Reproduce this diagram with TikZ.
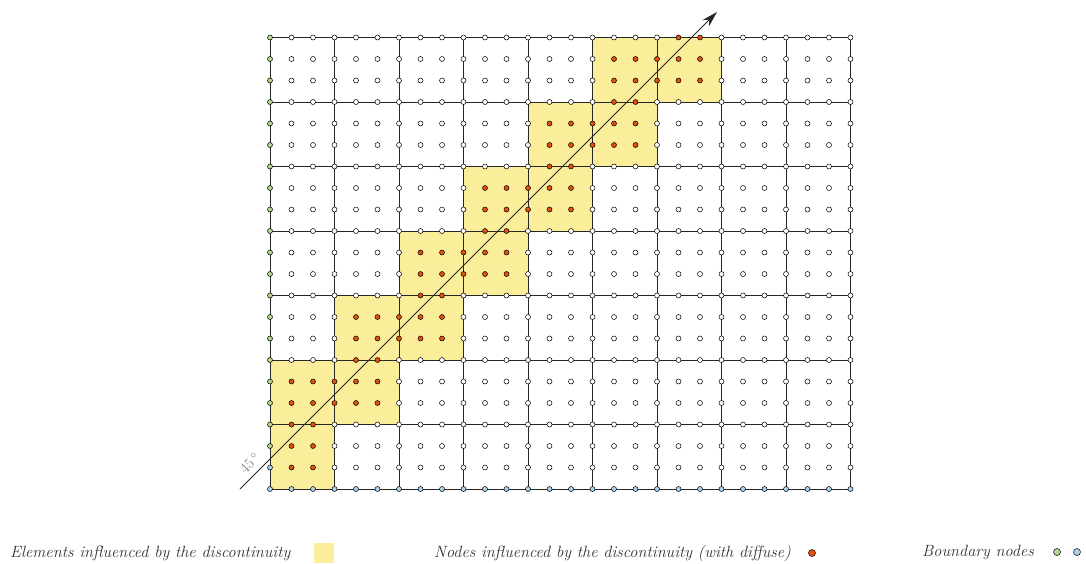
\documentclass[tikz,border=0pt]{standalone}
\usetikzlibrary{arrows.meta}
\definecolor{elemyellow}{RGB}{250,238,155}
\definecolor{nodered}{RGB}{230,80,10}
\definecolor{bndgreen}{RGB}{181,217,140}
\definecolor{bndblue}{RGB}{168,212,240}
\definecolor{legtext}{RGB}{50,50,50}
\tikzset{
  meshline/.style={line width=0.9pt, draw=black!85},
  meshnode/.style={line width=0.5pt, draw=black},
  legendtext/.style={anchor=west, inner sep=0pt, text=legtext, font=\fontsize{16.3}{19}\selectfont\itshape},
  dirline/.style={line width=0.8pt, draw=black!85, -{Stealth[length=16pt,width=9pt]}},
}
\begin{document}
\begin{tikzpicture}[x=1pt,y=-1pt]
\useasboundingbox (0,0) rectangle (1086,563);
% yellow elements (c = column from left, r = row from bottom)
\foreach \ec/\er in {0/0,0/1,1/1,1/2,2/2,2/3,3/3,3/4,4/4,4/5,5/5,5/6,6/6}{
  \fill[elemyellow] ({270+64.5*\ec},{489-64.5*\er}) rectangle ({270+64.5*(\ec+1)},{489-64.5*(\er+1)});
}
% mesh lines
\foreach \k in {0,...,9}{
  \draw[meshline] ({270+64.5*\k},489) -- ({270+64.5*\k},{489-64.5*7});
}
\foreach \k in {0,...,7}{
  \draw[meshline] (270,{489-64.5*\k}) -- ({270+64.5*9},{489-64.5*\k});
}
% direction of the discontinuity
\coordinate (dstart) at (240,489);
\coordinate (dend) at (717,12);
\draw[dirline] (dstart) -- (dend);
\node[rotate=45, text=black!55, font=\fontsize{15}{17}\selectfont, inner sep=0pt] (anglelabel) at (250,463) {45\,$^{\circ}$};
% mesh nodes
\foreach \i in {0,...,27}{
  \foreach \j in {0,...,21}{
    \pgfmathtruncatemacro\im{mod(\i,3)}
    \pgfmathtruncatemacro\jm{mod(\j,3)}
    \pgfmathtruncatemacro\ec{floor(\i/3)}
    \pgfmathtruncatemacro\er{floor(\j/3)}
    \pgfmathtruncatemacro\erm{\er-1}
    \pgfmathtruncatemacro\ecp{\ec+1}
    \def\nodecol{white}
    % interior nodes of yellow elements
    \ifnum\im>0 \ifnum\jm>0
      \ifnum\er=0 \ifnum\ec=0 \def\nodecol{nodered}\fi\fi
      \ifnum\er>0
        \ifnum\ec=\er \def\nodecol{nodered}\fi
        \ifnum\ec=\erm \def\nodecol{nodered}\fi
      \fi
    \fi\fi
    % shared vertical edges
    \ifnum\im=0 \ifnum\jm>0
      \ifnum\ec>0 \ifnum\er=\ec \def\nodecol{nodered}\fi\fi
    \fi\fi
    % shared horizontal edges
    \ifnum\jm=0 \ifnum\im>0
      \pgfmathtruncatemacro\jd{\j/3}
      \ifnum\jd=\ecp \def\nodecol{nodered}\fi
    \fi\fi
    % boundary nodes
    \ifnum\i=0
      \ifnum\j>1 \def\nodecol{bndgreen}\else \def\nodecol{bndblue}\fi
    \fi
    \ifnum\j=0 \def\nodecol{bndblue}\fi
    \draw[meshnode, fill=\nodecol] ({270+21.5*\i},{489-21.5*\j}) circle (2.5);
  }
}
% legend
\node[legendtext] (leg1) at (10,553) {Elements influenced by the discontinuity};
\fill[elemyellow] (314,543) rectangle (334,563);
\node[legendtext] (leg2) at (434,553) {Nodes influenced by the discontinuity (with diffuse)};
\draw[meshnode, fill=nodered] (812,553) circle (3.5);
\node[legendtext] (leg3) at (922,552) {Boundary nodes};
\draw[meshnode, fill=bndgreen] (1057,552) circle (3.5);
\draw[meshnode, fill=bndblue] (1077,552) circle (3.5);
\end{tikzpicture}
\end{document}
